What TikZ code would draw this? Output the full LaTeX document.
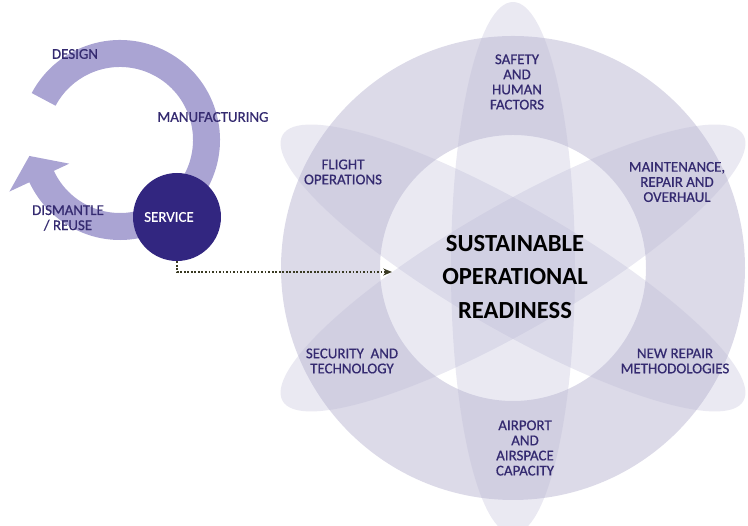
\documentclass[tikz,border=0pt]{standalone}
\usepackage{fontspec}
\setmainfont{Carlito}
\newfontfamily\lblfont[FakeBold=0.6]{Carlito}
\usepackage{tikz}
\usetikzlibrary{arrows.meta}

\definecolor{cyclecol}{RGB}{170,164,211}
\definecolor{srvcol}{RGB}{50,38,128}
\definecolor{labelcol}{RGB}{52,42,112}
\definecolor{ringcol}{RGB}{220,218,232}
\definecolor{petalcol}{RGB}{185,183,212}
\definecolor{dotcol}{RGB}{58,58,34}

\begin{document}
\begin{tikzpicture}[x=0.02cm,y=0.02cm,
  lbl/.style={text=labelcol,align=center,font=\lblfont\fontsize{8.5}{8.6}\selectfont},
  dotline/.style={dotcol,densely dotted,line width=1pt,-{Stealth[length=5pt,width=4pt]}}]
\useasboundingbox (0,0) rectangle (748,526);

% life cycle arrow
\fill[cyclecol,shift={(120,386)}] (152:100) arc[start angle=152,end angle=-155,radius=100]
  -- (205:122) -- (190:92) -- (205:56) -- (205:73)
  arc[start angle=-155,end angle=152,radius=73] -- cycle;

\node[circle,fill=srvcol,minimum size=1.76cm,inner sep=0] (srv) at (177,309) {};
\node[lbl,text=white] (srvtxt) at (169,309) {SERVICE};

\node[lbl] (design) at (75,472) {DESIGN};
\node[lbl] (manuf) at (213,409) {MANUFACTURING};
\node[lbl] (dismantle) at (68,308) {DISMANTLE\\/ REUSE};

% ring and petals
\coordinate (hub) at (513,258);
\fill[ringcol,even odd rule] (hub) circle[radius=232] (hub) circle[radius=133];
\foreach \a in {90,30,150}
  \fill[petalcol,fill opacity=0.3,rotate around={\a:(hub)}] (hub) ellipse[x radius=266,y radius=62];

\node[lbl] (safety) at (517,444) {SAFETY\\AND\\HUMAN\\FACTORS};
\node[lbl] (flight) at (343,354) {FLIGHT\\OPERATIONS};
\node[lbl] (mro) at (677,344) {MAINTENANCE,\\REPAIR AND\\OVERHAUL};
\node[lbl] (security) at (352,165) {SECURITY~~AND\\TECHNOLOGY};
\node[lbl] (repair) at (675,165) {NEW REPAIR\\METHODOLOGIES};
\node[lbl] (airport) at (525,78) {AIRPORT\\AND\\AIRSPACE\\CAPACITY};
\node[align=center,font=\fontsize{14}{19}\selectfont\bfseries] (goal) at (515,249)
  {SUSTAINABLE\\OPERATIONAL\\READINESS};

\coordinate (inl) at (392,254);
\draw[dotline] (srv.south) |- (inl);

\end{tikzpicture}
\end{document}
